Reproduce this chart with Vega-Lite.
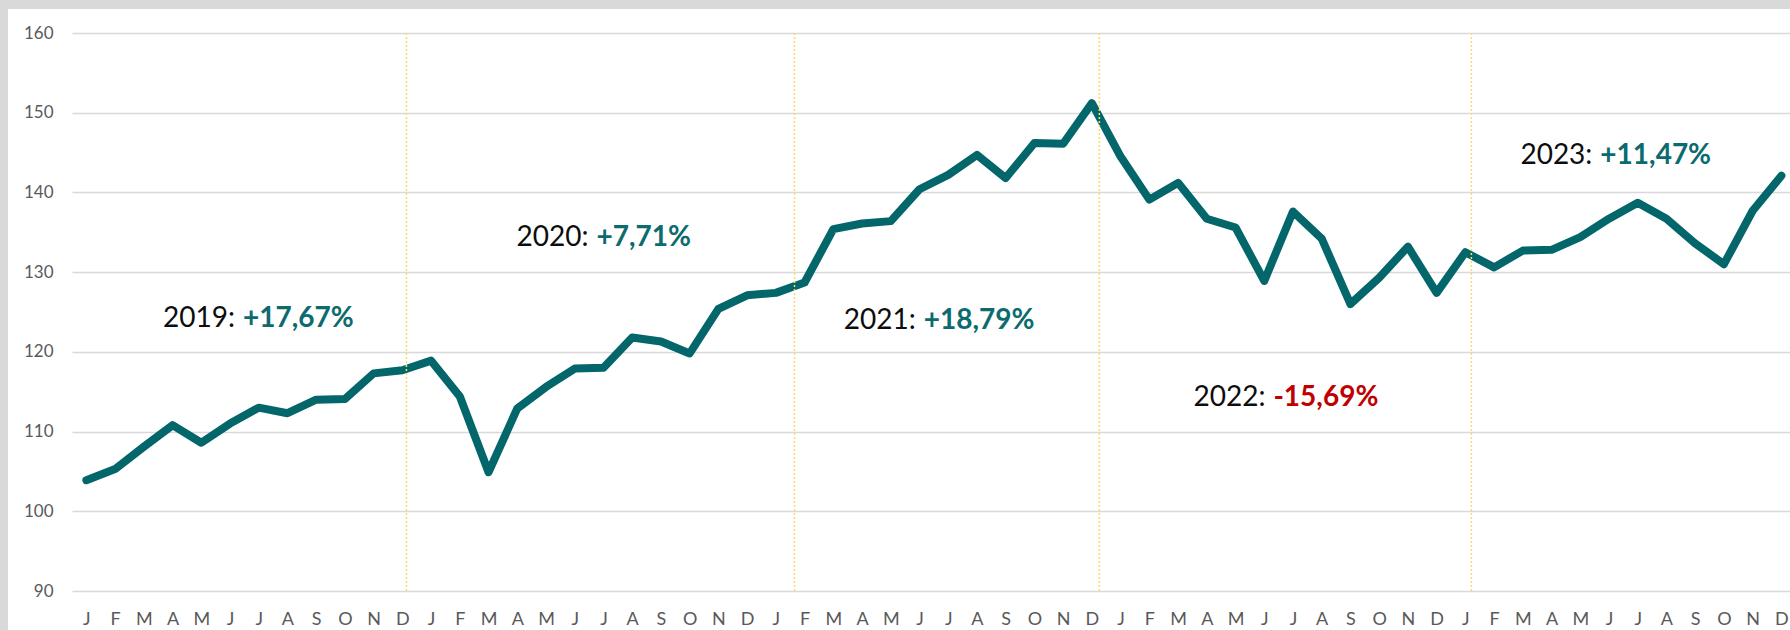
{
  "$schema": "https://vega.github.io/schema/vega-lite/v6.json",
  "width": 1718,
  "height": 558,
  "autosize": "none",
  "padding": {"left": 72, "top": 33, "right": 0, "bottom": 39},
  "background": "white",
  "config": {
    "view": {"stroke": null},
    "font": "Lato",
    "axisX": {"labelOverlap": false, "labelSeparation": 0, "labelFlush": false, "labelBound": false, "grid": false, "domain": false, "ticks": false, "tickSize": 0, "labelPadding": 33, "labelBaseline": "alphabetic", "labelAngle": 0, "labelFont": "Lato", "labelFontSize": 18, "labelColor": "#595959", "title": null},
    "axisY": {"labelOverlap": false, "grid": true, "gridColor": "#D9D9D9", "gridWidth": 1.4, "domain": false, "ticks": false, "tickSize": 0, "labelPadding": 19, "labelFont": "Lato", "labelFontSize": 17, "labelColor": "#595959", "title": null}
  },
  "datasets": {
    "series": [
      {"n": 0, "month": "2019-01", "value": 103.9},
      {"n": 1, "month": "2019-02", "value": 105.3},
      {"n": 2, "month": "2019-03", "value": 108.1},
      {"n": 3, "month": "2019-04", "value": 110.8},
      {"n": 4, "month": "2019-05", "value": 108.6},
      {"n": 5, "month": "2019-06", "value": 111.0},
      {"n": 6, "month": "2019-07", "value": 113.0},
      {"n": 7, "month": "2019-08", "value": 112.3},
      {"n": 8, "month": "2019-09", "value": 114.0},
      {"n": 9, "month": "2019-10", "value": 114.1},
      {"n": 10, "month": "2019-11", "value": 117.3},
      {"n": 11, "month": "2019-12", "value": 117.7},
      {"n": 12, "month": "2020-01", "value": 118.9},
      {"n": 13, "month": "2020-02", "value": 114.4},
      {"n": 14, "month": "2020-03", "value": 104.9},
      {"n": 15, "month": "2020-04", "value": 112.9},
      {"n": 16, "month": "2020-05", "value": 115.6},
      {"n": 17, "month": "2020-06", "value": 117.9},
      {"n": 18, "month": "2020-07", "value": 118.0},
      {"n": 19, "month": "2020-08", "value": 121.8},
      {"n": 20, "month": "2020-09", "value": 121.3},
      {"n": 21, "month": "2020-10", "value": 119.8},
      {"n": 22, "month": "2020-11", "value": 125.4},
      {"n": 23, "month": "2020-12", "value": 127.1},
      {"n": 24, "month": "2021-01", "value": 127.4},
      {"n": 25, "month": "2021-02", "value": 128.7},
      {"n": 26, "month": "2021-03", "value": 135.4},
      {"n": 27, "month": "2021-04", "value": 136.1},
      {"n": 28, "month": "2021-05", "value": 136.4},
      {"n": 29, "month": "2021-06", "value": 140.4},
      {"n": 30, "month": "2021-07", "value": 142.2},
      {"n": 31, "month": "2021-08", "value": 144.7},
      {"n": 32, "month": "2021-09", "value": 141.8},
      {"n": 33, "month": "2021-10", "value": 146.2},
      {"n": 34, "month": "2021-11", "value": 146.1},
      {"n": 35, "month": "2021-12", "value": 151.2},
      {"n": 36, "month": "2022-01", "value": 144.5},
      {"n": 37, "month": "2022-02", "value": 139.1},
      {"n": 38, "month": "2022-03", "value": 141.2},
      {"n": 39, "month": "2022-04", "value": 136.7},
      {"n": 40, "month": "2022-05", "value": 135.6},
      {"n": 41, "month": "2022-06", "value": 128.9},
      {"n": 42, "month": "2022-07", "value": 137.6},
      {"n": 43, "month": "2022-08", "value": 134.2},
      {"n": 44, "month": "2022-09", "value": 126.0},
      {"n": 45, "month": "2022-10", "value": 129.3},
      {"n": 46, "month": "2022-11", "value": 133.2},
      {"n": 47, "month": "2022-12", "value": 127.4},
      {"n": 48, "month": "2023-01", "value": 132.5},
      {"n": 49, "month": "2023-02", "value": 130.6},
      {"n": 50, "month": "2023-03", "value": 132.7},
      {"n": 51, "month": "2023-04", "value": 132.8},
      {"n": 52, "month": "2023-05", "value": 134.4},
      {"n": 53, "month": "2023-06", "value": 136.7},
      {"n": 54, "month": "2023-07", "value": 138.7},
      {"n": 55, "month": "2023-08", "value": 136.7},
      {"n": 56, "month": "2023-09", "value": 133.6},
      {"n": 57, "month": "2023-10", "value": 131.0},
      {"n": 58, "month": "2023-11", "value": 137.7},
      {"n": 59, "month": "2023-12", "value": 142.1}
    ],
    "breaks": [
      {"n": 11.14},
      {"n": 24.65},
      {"n": 35.26},
      {"n": 48.21}
    ],
    "notes": [
      {"year": "2019:", "change": "+17,67%", "n": 5.31, "v": 123.1},
      {"year": "2020:", "change": "+7,71%", "n": 17.62, "v": 133.26},
      {"year": "2021:", "change": "+18,79%", "n": 29.01, "v": 122.93},
      {"year": "2022:", "change": "-15,69%", "n": 41.18, "v": 113.22},
      {"year": "2023:", "change": "+11,47%", "n": 52.56, "v": 143.56}
    ]
  },
  "layer": [
    {
      "data": {"name": "series"},
      "mark": {"type": "line", "color": "#03666A", "strokeWidth": 8, "strokeCap": "round", "strokeJoin": "round"},
      "encoding": {
        "x": {
          "field": "n", "type": "quantitative",
          "scale": {"domain": [-0.5, 59.3], "nice": false, "zero": false},
          "axis": {
            "values": [0,1,2,3,4,5,6,7,8,9,10,11,12,13,14,15,16,17,18,19,20,21,22,23,24,25,26,27,28,29,30,31,32,33,34,35,36,37,38,39,40,41,42,43,44,45,46,47,48,49,50,51,52,53,54,55,56,57,58,59],
            "labelExpr": "['J','F','M','A','M','J','J','A','S','O','N','D'][datum.value % 12]",
            "labelOverlap": false
          }
        },
        "y": {
          "field": "value", "type": "quantitative",
          "scale": {"domain": [90, 160], "nice": false, "zero": false},
          "axis": {"values": [90, 100, 110, 120, 130, 140, 150, 160]}
        }
      }
    },
    {
      "data": {"values": [{}]},
      "mark": {"type": "rect", "color": "#D9D9D9", "clip": false},
      "encoding": {
        "x": {"datum": -5, "type": "quantitative", "scale": {"domain": [-0.5, 59.3], "nice": false, "zero": false},
          "axis": {
            "values": [0,1,2,3,4,5,6,7,8,9,10,11,12,13,14,15,16,17,18,19,20,21,22,23,24,25,26,27,28,29,30,31,32,33,34,35,36,37,38,39,40,41,42,43,44,45,46,47,48,49,50,51,52,53,54,55,56,57,58,59],
            "labelExpr": "['J','F','M','A','M','J','J','A','S','O','N','D'][datum.value % 12]",
            "labelOverlap": false
          }},
        "x2": {"datum": 59.3},
        "y": {"datum": 163.01, "type": "quantitative", "scale": {"domain": [90, 160], "nice": false, "zero": false},
          "axis": {"values": [90, 100, 110, 120, 130, 140, 150, 160]}},
        "y2": {"datum": 175}
      }
    },
    {
      "data": {"values": [{}]},
      "mark": {"type": "rect", "color": "#D9D9D9", "clip": false},
      "encoding": {
        "x": {"datum": -5, "type": "quantitative", "scale": {"domain": [-0.5, 59.3], "nice": false, "zero": false},
          "axis": {
            "values": [0,1,2,3,4,5,6,7,8,9,10,11,12,13,14,15,16,17,18,19,20,21,22,23,24,25,26,27,28,29,30,31,32,33,34,35,36,37,38,39,40,41,42,43,44,45,46,47,48,49,50,51,52,53,54,55,56,57,58,59],
            "labelExpr": "['J','F','M','A','M','J','J','A','S','O','N','D'][datum.value % 12]",
            "labelOverlap": false
          }},
        "x2": {"datum": -2.728},
        "y": {"datum": 80, "type": "quantitative", "scale": {"domain": [90, 160], "nice": false, "zero": false},
          "axis": {"values": [90, 100, 110, 120, 130, 140, 150, 160]}},
        "y2": {"datum": 175}
      }
    },
    {
      "data": {"name": "breaks"},
      "mark": {"type": "rule", "color": "#FFD966", "strokeWidth": 1.5, "strokeDash": [2, 2]},
      "encoding": {
        "x": {"field": "n", "type": "quantitative", "scale": {"domain": [-0.5, 59.3], "nice": false, "zero": false},
          "axis": {
            "values": [0,1,2,3,4,5,6,7,8,9,10,11,12,13,14,15,16,17,18,19,20,21,22,23,24,25,26,27,28,29,30,31,32,33,34,35,36,37,38,39,40,41,42,43,44,45,46,47,48,49,50,51,52,53,54,55,56,57,58,59],
            "labelExpr": "['J','F','M','A','M','J','J','A','S','O','N','D'][datum.value % 12]",
            "labelOverlap": false
          }},
        "y": {"datum": 90, "type": "quantitative", "scale": {"domain": [90, 160], "nice": false, "zero": false},
          "axis": {"values": [90, 100, 110, 120, 130, 140, 150, 160]}},
        "y2": {"datum": 160}
      }
    },
    {
      "data": {"name": "notes"},
      "mark": {"type": "text", "align": "right", "baseline": "alphabetic", "dx": -4, "font": "Lato", "fontSize": 28, "color": "#0D0D0D"},
      "encoding": {
        "x": {"field": "n", "type": "quantitative", "scale": {"domain": [-0.5, 59.3], "nice": false, "zero": false},
          "axis": {
            "values": [0,1,2,3,4,5,6,7,8,9,10,11,12,13,14,15,16,17,18,19,20,21,22,23,24,25,26,27,28,29,30,31,32,33,34,35,36,37,38,39,40,41,42,43,44,45,46,47,48,49,50,51,52,53,54,55,56,57,58,59],
            "labelExpr": "['J','F','M','A','M','J','J','A','S','O','N','D'][datum.value % 12]",
            "labelOverlap": false
          }},
        "y": {"field": "v", "type": "quantitative", "scale": {"domain": [90, 160], "nice": false, "zero": false},
          "axis": {"values": [90, 100, 110, 120, 130, 140, 150, 160]}},
        "text": {"field": "year"}
      }
    },
    {
      "data": {"name": "notes"},
      "mark": {"type": "text", "align": "left", "baseline": "alphabetic", "dx": 4, "font": "Lato", "fontSize": 28, "fontWeight": "bold"},
      "encoding": {
        "x": {"field": "n", "type": "quantitative", "scale": {"domain": [-0.5, 59.3], "nice": false, "zero": false},
          "axis": {
            "values": [0,1,2,3,4,5,6,7,8,9,10,11,12,13,14,15,16,17,18,19,20,21,22,23,24,25,26,27,28,29,30,31,32,33,34,35,36,37,38,39,40,41,42,43,44,45,46,47,48,49,50,51,52,53,54,55,56,57,58,59],
            "labelExpr": "['J','F','M','A','M','J','J','A','S','O','N','D'][datum.value % 12]",
            "labelOverlap": false
          }},
        "y": {"field": "v", "type": "quantitative", "scale": {"domain": [90, 160], "nice": false, "zero": false},
          "axis": {"values": [90, 100, 110, 120, 130, 140, 150, 160]}},
        "text": {"field": "change"},
        "color": {"condition": {"test": "indexof(datum.change, '-') == 0", "value": "#C00000"}, "value": "#0B6B6E"}
      }
    }
  ]
}
